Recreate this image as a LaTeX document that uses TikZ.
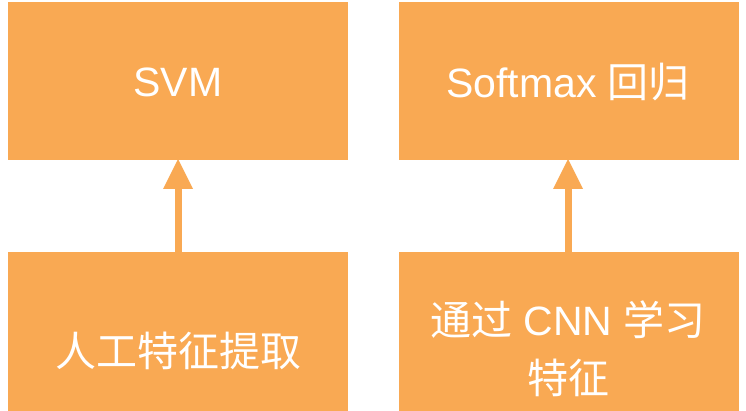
\documentclass[tikz,border=0pt]{standalone}
\usepackage{fontspec}
\setmainfont{Liberation Sans}
\newfontfamily\cjk{Noto Sans CJK SC}
\usetikzlibrary{arrows.meta}
\definecolor{boxorange}{RGB}{249,169,83}
\tikzset{
  card/.style={fill=boxorange, draw=none},
  lbl/.style={text=white, align=center, font=\fontsize{41}{58}\selectfont, inner sep=0pt},
  uparrow/.style={draw=boxorange, line width=7pt, -{Triangle[length=30pt,width=30pt,line width=0pt]}, shorten >=-1pt}
}
\begin{document}
\begin{tikzpicture}[x=1pt,y=-1pt]
\useasboundingbox (0,0) rectangle (746,411);
\clip (0,0) rectangle (746,411);
\fill[white] (0,0) rectangle (746,411);
\path[card] (8,2) rectangle (348,160) coordinate (tlc);
\path[card] (399,2) rectangle (739,160);
\path[card] (8,252) rectangle (348,450);
\path[card] (399,252) rectangle (739,450);
\coordinate (svmS) at (178,160);
\coordinate (softS) at (568,160);
\coordinate (manN) at (178,252);
\coordinate (cnnN) at (568,252);
\node[lbl] (svm) at (178,82) {SVM};
\node[lbl] (soft) at (568,82) {Softmax {\cjk 回归}};
\node[lbl] (man) at (178,351) {\cjk 人工特征提取};
\node[lbl] (cnn) at (568,349) {{\cjk 通过} CNN {\cjk 学习}\\{\cjk 特征}};
\draw[uparrow] (manN) -- (svmS);
\draw[uparrow] (cnnN) -- (softS);
\end{tikzpicture}
\end{document}
